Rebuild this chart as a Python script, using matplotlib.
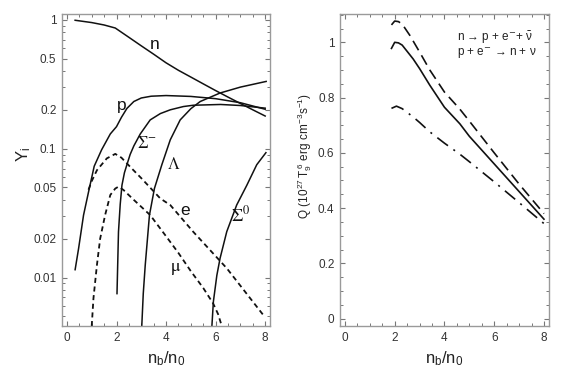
import numpy as np
import matplotlib
matplotlib.use("Agg")
import matplotlib.pyplot as plt
from matplotlib.ticker import FixedLocator, MultipleLocator, LogLocator, NullFormatter

plt.rcParams['font.family'] = ['Liberation Sans', 'DejaVu Sans']

# ---------------- left panel data: particle fractions Y_i vs n_b/n_0 ----------------
n_x = [0.33, 1.0, 1.5, 1.95, 2.5, 3.0, 3.5, 4.0, 4.5, 5.0, 5.5, 6.0, 6.5, 7.0, 7.5, 8.0]
n_y = [0.99, 0.95, 0.91, 0.862, 0.73, 0.627, 0.54, 0.463, 0.405, 0.359, 0.318, 0.282, 0.251, 0.224, 0.20, 0.179]

p_x = [0.33, 0.47, 0.67, 0.87, 1.1, 1.4, 1.75, 2.0, 2.2, 2.42, 2.7, 3.0, 3.4, 4.0, 5.0, 6.0, 7.0, 8.0]
p_y = [0.0115, 0.0168, 0.0305, 0.046, 0.073, 0.098, 0.13, 0.148, 0.175, 0.205, 0.232, 0.247, 0.255, 0.258, 0.254, 0.244, 0.227, 0.202]

sm_x = [2.02, 2.05, 2.08, 2.15, 2.22, 2.32, 2.42, 2.55, 2.7, 2.96, 3.36, 3.77, 4.17, 4.7, 5.1, 6.2, 7.0, 8.0]
sm_y = [0.0075, 0.013, 0.0226, 0.037, 0.052, 0.065, 0.075, 0.09, 0.105, 0.13, 0.167, 0.187, 0.2, 0.212, 0.217, 0.22, 0.216, 0.206]

lam_x = [3.02, 3.08, 3.16, 3.33, 3.53, 3.83, 4.17, 4.57, 5.0, 5.38, 6.18, 7.0, 8.04]
lam_y = [0.0042, 0.0075, 0.0125, 0.0305, 0.049, 0.075, 0.117, 0.167, 0.204, 0.232, 0.27, 0.30, 0.332]

s0_x = [5.85, 5.91, 6.05, 6.18, 6.45, 6.85, 7.26, 7.66, 8.03]
s0_y = [0.0042, 0.0065, 0.0104, 0.0141, 0.0227, 0.0365, 0.052, 0.075, 0.093]

e_x = [0.87, 1.0, 1.21, 1.61, 1.95, 2.2, 2.62, 3.0, 3.77, 4.17, 5.1, 6.45, 7.93]
e_y = [0.048, 0.056, 0.068, 0.084, 0.091, 0.085, 0.070, 0.059, 0.041, 0.0365, 0.0226, 0.0118, 0.0051]

mu_x = [1.0, 1.07, 1.21, 1.34, 1.54, 1.75, 1.95, 2.08, 2.28, 2.7, 3.36, 4.0, 4.5, 5.0, 5.5, 5.9, 6.1, 6.25]
mu_y = [0.0042, 0.0069, 0.0125, 0.020, 0.0305, 0.0437, 0.049, 0.0507, 0.0478, 0.040, 0.0305, 0.0209, 0.0155, 0.0112, 0.0083, 0.0063, 0.0052, 0.0042]

left_yticks = [0.01, 0.02, 0.05, 0.1, 0.2, 0.5, 1]
left_yticklabels = ["0.01", "0.02", "0.05", "0.1", "0.2", "0.5", "1"]
xticks = [0, 2, 4, 6, 8]
xticklabels = ["0", "2", "4", "6", "8"]

# ---------------- right panel data: emissivity Q vs n_b/n_0 ----------------
qd_x = [1.87, 2.0, 2.15, 2.3, 2.61, 3.0, 3.41, 4.0, 4.62, 5.0, 6.0, 7.0, 8.0]
qd_y = [1.063, 1.077, 1.075, 1.066, 1.025, 0.965, 0.90, 0.82, 0.758, 0.715, 0.60, 0.487, 0.38]

qs_x = [1.87, 2.0, 2.15, 2.3, 2.74, 3.0, 3.41, 4.0, 4.62, 5.0, 6.0, 7.0, 8.0]
qs_y = [0.978, 1.0, 0.998, 0.99, 0.94, 0.905, 0.845, 0.765, 0.705, 0.66, 0.56, 0.46, 0.36]

qdd_x = [1.87, 2.07, 2.3, 2.74, 3.0, 3.41, 4.0, 4.62, 5.0, 6.0, 7.0, 8.0]
qdd_y = [0.761, 0.769, 0.76, 0.73, 0.71, 0.676, 0.635, 0.595, 0.568, 0.495, 0.42, 0.344]

right_yticks = [0, 0.2, 0.4, 0.6, 0.8, 1.0]
right_yticklabels = ["0", "0.2", "0.4", "0.6", "0.8", "1"]

# ---------------- figure ----------------
fig = plt.figure(figsize=(5.61, 3.85), dpi=100)
axL = fig.add_axes([0.1105, 0.153, 0.371, 0.811])
axR = fig.add_axes([0.606, 0.153, 0.3725, 0.811])

spine_col = '#9a9a9a'
for ax in (axL, axR):
    for s in ax.spines.values():
        s.set_color(spine_col)
        s.set_linewidth(1.0)
    ax.tick_params(which='both', direction='in', top=True, right=True,
                   color='#777777', labelcolor='#333333', labelsize=8.5)
    ax.tick_params(which='major', length=3.5, width=0.8, pad=4)
    ax.tick_params(which='minor', length=2, width=0.7)
    ax.set_xlim(-0.2, 8.2)
    ax.set_xticks(xticks)
    ax.set_xticklabels(xticklabels)
    ax.xaxis.set_minor_locator(MultipleLocator(0.5))

lw_s = 1.1
col = '#111111'
axL.set_yscale('log')
axL.plot(n_x, n_y, color=col, lw=lw_s)
axL.plot(p_x, p_y, color=col, lw=lw_s)
axL.plot(sm_x, sm_y, color=col, lw=lw_s)
axL.plot(lam_x, lam_y, color=col, lw=lw_s)
axL.plot(s0_x, s0_y, color=col, lw=lw_s)
axL.plot(e_x, e_y, color=col, lw=1.3, dashes=(2.8, 2.0))
axL.plot(mu_x, mu_y, color=col, lw=1.3, dashes=(2.8, 2.0))
axL.set_ylim(0.0042, 1.11)
axL.yaxis.set_major_locator(FixedLocator(left_yticks))
axL.set_yticklabels(left_yticklabels)
axL.yaxis.set_minor_locator(LogLocator(base=10, subs=np.arange(2, 10)))
axL.yaxis.set_minor_formatter(NullFormatter())

txtkw = dict(ha='center', va='center', color='#111111')
axL.text(3.56, 0.64, 'n', fontsize=12.5, **txtkw)
axL.text(2.22, 0.215, 'p', fontsize=12.5, **txtkw)
axL.text(4.77, 0.033, 'e', fontsize=12.5, **txtkw)
axL.text(3.22, 0.11, r'$\Sigma^{-}$', fontsize=12, math_fontfamily='stix', **txtkw)
axL.text(4.3, 0.076, r'$\Lambda$', fontsize=12, math_fontfamily='stix', **txtkw)
axL.text(7.0, 0.0305, r'$\Sigma^{0}$', fontsize=13, math_fontfamily='stix', **txtkw)
axL.text(4.37, 0.0118, r'$\mathrm{\mu}$', fontsize=13, math_fontfamily='stix', **txtkw)

axL.set_xlabel(r'$\mathregular{n_b/n_0}$', fontsize=12, color='#222222')
axL.set_ylabel(r'$\mathregular{Y_i}$', fontsize=12, color='#222222')
axL.xaxis.set_label_coords(0.5, -0.075)
axL.yaxis.set_label_coords(-0.14, 0.55)

# right panel
axR.plot(qd_x, qd_y, color=col, lw=1.2, dashes=(6.5, 3.5))
axR.plot(qs_x, qs_y, color=col, lw=1.2)
axR.plot(qdd_x, qdd_y, color=col, lw=1.2, dashes=(8.0, 4.0, 1.2, 4.0))
axR.set_ylim(-0.027, 1.103)
axR.set_yticks(right_yticks)
axR.set_yticklabels(right_yticklabels)
axR.yaxis.set_minor_locator(MultipleLocator(0.05))

axR.text(4.5, 1.018, 'n \u2192 p + e$^{-}$+ $\\bar{\\mathregular{\\nu}}$', fontsize=8.5,
         ha='left', va='center', color='#222222')
axR.text(4.5, 0.960, 'p + e$^{-}$ \u2192 n + \u03bd', fontsize=8.5,
         ha='left', va='center', color='#222222')

axR.set_xlabel(r'$\mathregular{n_b/n_0}$', fontsize=12, color='#222222')
axR.set_ylabel(r'$\mathregular{Q\ (10^{27}\,T_9^{\,6}\ erg\ cm^{-3}s^{-1})}$', fontsize=8.5, color='#222222')
axR.xaxis.set_label_coords(0.5, -0.075)
axR.yaxis.set_label_coords(-0.125, 0.545)

fig.savefig('out.png', dpi=100)
